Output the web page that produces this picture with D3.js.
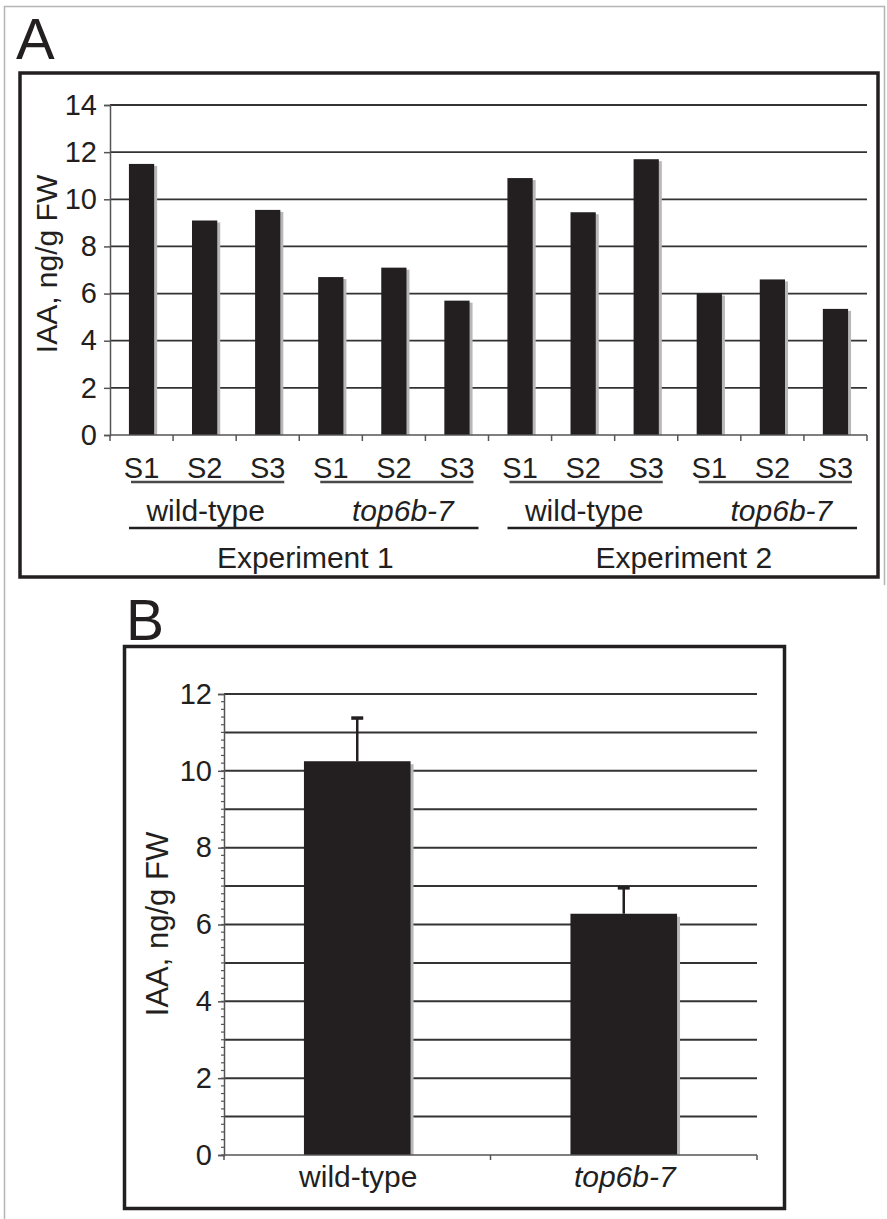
<!DOCTYPE html>
<html>
<head>
<meta charset="utf-8">
<script src="https://cdn.jsdelivr.net/npm/d3@7"></script>
<style>
	body { margin: 0; background: #fff; }
	text { font-family: "Liberation Sans", Arial, sans-serif; fill: #231f20; font-weight: normal; }
</style>
</head>
<body>
<div id="figure"></div>
<script>
/**
 * IAA levels in wild-type and top6b-7, two panels
 */

// Panel A data
var samplesA = ["S1", "S2", "S3", "S1", "S2", "S3", "S1", "S2", "S3", "S1", "S2", "S3"];
var valuesA = [11.5, 9.1, 9.55, 6.7, 7.1, 5.7, 10.9, 9.45, 11.7, 6.0, 6.6, 5.35];
var genotypesA = ["wild-type", "top6b-7", "wild-type", "top6b-7"];
var experimentsA = ["Experiment 1", "Experiment 2"];
var ticksA = [0, 2, 4, 6, 8, 10, 12, 14];

// Panel B data
var genotypesB = ["wild-type", "top6b-7"];
var meansB = [10.25, 6.28];
var errorsB = [1.15, 0.7];
var ticksB = [0, 2, 4, 6, 8, 10, 12];

var ink = "#231f20";
var yTitle = "IAA, ng/g FW";

var svg = d3.select("#figure").append("svg")
	.attr("width", 887)
	.attr("height", 1219);

// scanned page frame
svg.append("path")
	.attr("d", "M4.5,1219 V6.5 H884.5 V585")
	.attr("fill", "none")
	.attr("stroke", "#b5b5b5")
	.attr("stroke-width", 1.5);

// ---------- Panel A ----------
svg.append("text")
	.attr("x", 16)
	.attr("y", 59)
	.attr("font-size", 58)
	.text("A");

svg.append("rect")
	.attr("x", 20).attr("y", 73)
	.attr("width", 858).attr("height", 504)
	.attr("fill", "none")
	.attr("stroke", ink)
	.attr("stroke-width", 3.5);

var xA = d3.scaleBand()
	.domain(d3.range(valuesA.length))
	.range([110, 867]);

var yA = d3.scaleLinear()
	.domain([0, 14])
	.range([435, 105]);

var gA = svg.append("g");

// gridlines
gA.selectAll(".gridA")
	.data(ticksA.slice(1))
	.enter().append("line")
	.attr("x1", 110).attr("x2", 867)
	.attr("y1", function(d) { return yA(d); })
	.attr("y2", function(d) { return yA(d); })
	.attr("stroke", "#333")
	.attr("stroke-width", 1.8);

// bars with their grey shadow
var barW = xA.bandwidth() * 0.4;
gA.selectAll(".shadowA")
	.data(valuesA)
	.enter().append("rect")
	.attr("x", function(d, i) { return xA(i) + (xA.bandwidth() - barW) / 2 + 3; })
	.attr("y", function(d) { return yA(d) + 2; })
	.attr("width", barW)
	.attr("height", function(d) { return yA(0) - yA(d) - 2; })
	.attr("fill", "#b8b8b8");

gA.selectAll(".barA")
	.data(valuesA)
	.enter().append("rect")
	.attr("x", function(d, i) { return xA(i) + (xA.bandwidth() - barW) / 2; })
	.attr("y", function(d) { return yA(d); })
	.attr("width", barW)
	.attr("height", function(d) { return yA(0) - yA(d); })
	.attr("fill", ink);

// y axis
var axisA = gA.append("g")
	.attr("transform", "translate(110,0)")
	.call(d3.axisLeft(yA).tickValues(ticksA).tickSize(6).tickPadding(7));
axisA.select(".domain").attr("stroke", "#555").attr("stroke-width", 1.5);
axisA.selectAll(".tick line").attr("stroke", "#555").attr("stroke-width", 1.5);
axisA.selectAll(".tick text")
	.attr("font-size", 29)
	.attr("font-family", "Liberation Sans, Arial, sans-serif")
	.attr("fill", ink);

// x axis line and ticks between bars
gA.append("line")
	.attr("x1", 110).attr("x2", 867)
	.attr("y1", yA(0)).attr("y2", yA(0))
	.attr("stroke", "#555").attr("stroke-width", 1.5);
gA.selectAll(".xtickA")
	.data(d3.range(valuesA.length + 1))
	.enter().append("line")
	.attr("x1", function(d) { return 110 + d * xA.step(); })
	.attr("x2", function(d) { return 110 + d * xA.step(); })
	.attr("y1", yA(0)).attr("y2", yA(0) + 6)
	.attr("stroke", "#555").attr("stroke-width", 1.5);

// sample labels
gA.selectAll(".sampleA")
	.data(samplesA)
	.enter().append("text")
	.attr("x", function(d, i) { return xA(i) + xA.bandwidth() / 2; })
	.attr("y", 478)
	.attr("text-anchor", "middle")
	.attr("font-size", 29)
	.text(function(d) { return d; });

// underline under each S1-S3 group
gA.selectAll(".groupLine")
	.data(genotypesA)
	.enter().append("line")
	.attr("x1", function(d, i) { return xA(i * 3) + 21; })
	.attr("x2", function(d, i) { return xA(i * 3 + 2) + xA.step() - 15; })
	.attr("y1", 482).attr("y2", 482)
	.attr("stroke", "#4a4a4a")
	.attr("stroke-width", 2.5);

// genotype labels
gA.selectAll(".genoA")
	.data(genotypesA)
	.enter().append("text")
	.attr("x", function(d, i) { return xA(i * 3 + 1) + xA.bandwidth() / 2 + (i % 2 ? 9 : 1); })
	.attr("y", 521)
	.attr("text-anchor", "middle")
	.attr("font-size", 30)
	.attr("font-style", function(d, i) { return i % 2 ? "italic" : "normal"; })
	.text(function(d) { return d; });

// experiment lines and labels
gA.selectAll(".expLine")
	.data(experimentsA)
	.enter().append("line")
	.attr("x1", function(d, i) { return xA(i * 6) + 19; })
	.attr("x2", function(d, i) { return xA(i * 6 + 5) + xA.step() - 10; })
	.attr("y1", 528).attr("y2", 528)
	.attr("stroke", ink)
	.attr("stroke-width", 2.5);

gA.selectAll(".expA")
	.data(experimentsA)
	.enter().append("text")
	.attr("x", function(d, i) { return xA(i * 6) + 3 * xA.step() + 6; })
	.attr("y", 568)
	.attr("text-anchor", "middle")
	.attr("font-size", 30)
	.text(function(d) { return d; });

// y title
gA.append("text")
	.attr("transform", "translate(57,264) rotate(-90)")
	.attr("text-anchor", "middle")
	.attr("font-size", 30)
	.text(yTitle);

// ---------- Panel B ----------
svg.append("text")
	.attr("x", 126)
	.attr("y", 640)
	.attr("font-size", 57)
	.text("B");

svg.append("rect")
	.attr("x", 124.5).attr("y", 646.5)
	.attr("width", 660).attr("height", 562)
	.attr("fill", "none")
	.attr("stroke", ink)
	.attr("stroke-width", 3.5);

var xB = d3.scaleBand()
	.domain(genotypesB)
	.range([224, 757]);

var yB = d3.scaleLinear()
	.domain([0, 12])
	.range([1155, 694]);

var gB = svg.append("g");

// gridlines every 1
gB.selectAll(".gridB")
	.data(d3.range(1, 13))
	.enter().append("line")
	.attr("x1", 224).attr("x2", 757)
	.attr("y1", function(d) { return yB(d); })
	.attr("y2", function(d) { return yB(d); })
	.attr("stroke", "#333")
	.attr("stroke-width", 2);

var barWB = xB.bandwidth() * 0.4;
gB.selectAll(".shadowB")
	.data(meansB)
	.enter().append("rect")
	.attr("x", function(d, i) { return xB(genotypesB[i]) + (xB.bandwidth() - barWB) / 2 + 3; })
	.attr("y", function(d) { return yB(d) + 3; })
	.attr("width", barWB)
	.attr("height", function(d) { return yB(0) - yB(d) - 3; })
	.attr("fill", "#b8b8b8");

// error bars (upper half only)
gB.selectAll(".errB")
	.data(meansB)
	.enter().append("line")
	.attr("x1", function(d, i) { return xB(genotypesB[i]) + xB.bandwidth() / 2; })
	.attr("x2", function(d, i) { return xB(genotypesB[i]) + xB.bandwidth() / 2; })
	.attr("y1", function(d) { return yB(d); })
	.attr("y2", function(d, i) { return yB(d + errorsB[i]); })
	.attr("stroke", ink)
	.attr("stroke-width", 2.5);
gB.selectAll(".capB")
	.data(meansB)
	.enter().append("line")
	.attr("x1", function(d, i) { return xB(genotypesB[i]) + xB.bandwidth() / 2 - 6; })
	.attr("x2", function(d, i) { return xB(genotypesB[i]) + xB.bandwidth() / 2 + 6; })
	.attr("y1", function(d, i) { return yB(d + errorsB[i]) + 1; })
	.attr("y2", function(d, i) { return yB(d + errorsB[i]) + 1; })
	.attr("stroke", ink)
	.attr("stroke-width", 3.5);

gB.selectAll(".barB")
	.data(meansB)
	.enter().append("rect")
	.attr("x", function(d, i) { return xB(genotypesB[i]) + (xB.bandwidth() - barWB) / 2; })
	.attr("y", function(d) { return yB(d); })
	.attr("width", barWB)
	.attr("height", function(d) { return yB(0) - yB(d); })
	.attr("fill", ink);

// minor ticks every 0.2
gB.selectAll(".minorB")
	.data(d3.range(0, 60))
	.enter().append("line")
	.attr("x1", 221).attr("x2", 224)
	.attr("y1", function(d) { return yB(d * 0.2); })
	.attr("y2", function(d) { return yB(d * 0.2); })
	.attr("stroke", "#555").attr("stroke-width", 1.2);

var axisB = gB.append("g")
	.attr("transform", "translate(224,0)")
	.call(d3.axisLeft(yB).tickValues(ticksB).tickSize(6).tickPadding(6));
axisB.select(".domain").attr("stroke", "#555").attr("stroke-width", 1.5);
axisB.selectAll(".tick line").attr("stroke", "#555").attr("stroke-width", 1.5);
axisB.selectAll(".tick text")
	.attr("font-size", 29)
	.attr("font-family", "Liberation Sans, Arial, sans-serif")
	.attr("fill", ink);

// x axis
gB.append("line")
	.attr("x1", 224).attr("x2", 757)
	.attr("y1", yB(0)).attr("y2", yB(0))
	.attr("stroke", "#555").attr("stroke-width", 1.5);
gB.selectAll(".xtickB")
	.data(d3.range(genotypesB.length + 1))
	.enter().append("line")
	.attr("x1", function(d) { return 224 + d * xB.step(); })
	.attr("x2", function(d) { return 224 + d * xB.step(); })
	.attr("y1", yB(0)).attr("y2", yB(0) + 5)
	.attr("stroke", "#555").attr("stroke-width", 1.5);

gB.selectAll(".genoB")
	.data(genotypesB)
	.enter().append("text")
	.attr("x", function(d) { return xB(d) + xB.bandwidth() / 2 + 1; })
	.attr("y", 1187)
	.attr("text-anchor", "middle")
	.attr("font-size", 30)
	.attr("font-style", function(d, i) { return i ? "italic" : "normal"; })
	.text(function(d) { return d; });

gB.append("text")
	.attr("transform", "translate(168,924) rotate(-90)")
	.attr("text-anchor", "middle")
	.attr("font-size", 31)
	.text(yTitle);
</script>
</body>
</html>
